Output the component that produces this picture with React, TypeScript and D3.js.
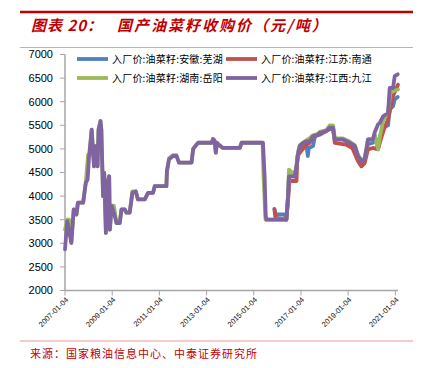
import React from "react";
import * as d3 from "d3";

const seriesNames = [
  "入厂价:油菜籽:安徽:芜湖",
  "入厂价:油菜籽:江苏:南通",
  "入厂价:油菜籽:湖南:岳阳",
  "入厂价:油菜籽:江西:九江",
];
const seriesColors = ["#4F81BD", "#C0504D", "#9BBB59", "#8064A2"];

const yTicks = [2000, 2500, 3000, 3500, 4000, 4500, 5000, 5500, 6000, 6500, 7000];
const xTickLabels = [
  "2007-01-04", "2009-01-04", "2011-01-04", "2013-01-04",
  "2015-01-04", "2017-01-04", "2019-01-04", "2021-01-04",
];

// 安徽芜湖
const anhuiDates = [
  "2015-11-20", "2015-12-10", "2016-04-30", "2016-05-23", "2016-06-18", "2016-07-02",
  "2016-09-28", "2016-10-27", "2016-11-22", "2016-12-17", "2017-02-06", "2017-03-29",
  "2017-04-20", "2017-05-05", "2017-07-09", "2017-08-10", "2017-10-20", "2018-02-02",
  "2018-03-25", "2018-05-16", "2018-06-11", "2018-10-17", "2019-01-30", "2019-04-17",
  "2019-06-07", "2019-07-28", "2019-09-17", "2019-11-07", "2020-01-23", "2020-02-17",
  "2020-04-12", "2020-05-08", "2020-06-28", "2020-09-13", "2020-10-08", "2020-11-29",
  "2020-12-25", "2021-02-10",
];
const anhuiValues = [
  3730, 3610, 3610, 3500, 4000, 4420,
  4420, 4630, 4850, 5000, 5060, 5090,
  4850, 5020, 5060, 5270, 5300, 5380,
  5420, 5420, 5200, 5200, 5130, 5060,
  4850, 4740, 4780, 5100, 5130, 5300,
  5000, 5250, 5450, 5500, 5840, 5900,
  6050, 6100,
];

// 江苏南通
const jiangsuDates = [
  "2015-11-20", "2015-12-05", "2016-05-23", "2016-06-18", "2016-07-10", "2016-10-27",
  "2016-11-10", "2016-12-17", "2017-03-29", "2017-05-19", "2017-07-09", "2017-10-20",
  "2018-02-02", "2018-03-25", "2018-05-16", "2018-06-11", "2018-12-01", "2019-03-10",
  "2019-06-07", "2019-07-28", "2019-09-17", "2019-11-07", "2020-01-23", "2020-04-12",
  "2020-06-01", "2020-07-28", "2020-09-13", "2020-11-29", "2021-02-14",
];
const jiangsuValues = [
  3720, 3540, 3500, 3900, 4320, 4320,
  4850, 4920, 5090, 5130, 5250, 5320,
  5380, 5430, 5430, 5130, 5090, 5020,
  4740, 4630, 4700, 4990, 5020, 4990,
  5240, 5480, 5620, 6120, 6360,
];

// 湖南岳阳
const hunanDates = [
  "2007-01-04", "2007-02-08", "2007-03-10", "2007-04-12", "2007-05-19", "2007-07-01",
  "2007-07-23", "2007-10-12", "2007-11-21", "2007-12-28", "2008-01-20", "2008-02-21",
  "2008-03-28", "2008-04-23", "2008-05-22", "2008-06-06", "2008-07-06", "2008-07-20",
  "2008-08-15", "2008-09-02", "2008-09-28", "2008-10-23", "2008-11-18", "2008-11-29",
  "2008-12-25", "2009-01-30", "2009-03-11", "2009-05-01", "2009-05-27", "2009-07-17",
  "2009-08-11", "2009-10-01", "2009-11-10", "2010-01-04", "2010-02-06", "2010-05-23",
  "2010-07-13", "2010-09-28", "2010-10-24", "2011-04-20", "2011-05-01", "2011-06-03",
  "2011-08-04", "2011-09-25", "2011-11-04", "2012-05-16", "2012-06-10", "2012-07-31",
  "2012-08-26", "2013-03-24", "2013-04-14", "2013-05-06", "2013-05-27", "2013-06-14",
  "2013-07-02", "2013-09-13", "2014-06-03", "2014-06-29", "2015-05-20", "2015-06-05",
  "2015-07-05", "2016-05-23", "2016-06-18", "2016-07-02", "2016-09-28", "2016-10-27",
  "2016-11-22", "2016-12-17", "2017-02-06", "2017-03-29", "2017-05-19", "2017-07-09",
  "2017-09-24", "2017-10-20", "2018-02-02", "2018-03-25", "2018-05-16", "2018-06-11",
  "2018-10-17", "2019-01-30", "2019-04-17", "2019-06-07", "2019-07-28", "2019-09-17",
  "2019-11-07", "2020-01-23", "2020-02-17", "2020-04-12", "2020-05-08", "2020-06-28",
  "2020-09-13", "2020-10-20", "2020-11-29", "2021-02-14",
];
const hunanValues = [
  3290, 3500, 3500, 3010, 3720, 3610,
  3860, 3860, 4280, 4880, 4880, 5410,
  4630, 5060, 4630, 5410, 5590, 5400,
  4000, 4490, 3220, 4280, 4420, 3290,
  3800, 3800, 3430, 3430, 3720, 3720,
  3650, 3650, 4100, 4100, 3930, 3930,
  4070, 4070, 4210, 4210, 4530, 4800,
  4870, 4870, 4710, 4710, 5000, 5090,
  5130, 5130, 5210, 5180, 4920, 5130,
  5100, 5020, 5020, 5130, 5130, 4400,
  3500, 3500, 4000, 4560, 4450, 4650,
  4950, 5080, 5130, 5180, 5230, 5290,
  5320, 5360, 5400, 5500, 5500, 5220,
  5220, 5150, 5080, 4870, 4760, 4800,
  5200, 5200, 5300, 4990, 5240, 5600,
  5780, 6190, 6220, 6260,
];

// 江西九江
const jiangxiDates = [
  "2007-01-04", "2007-02-08", "2007-04-12", "2007-05-19", "2007-07-01", "2007-07-23",
  "2007-10-12", "2007-11-21", "2007-12-20", "2008-01-12", "2008-02-21", "2008-03-28",
  "2008-04-23", "2008-05-22", "2008-06-06", "2008-07-06", "2008-07-20", "2008-08-15",
  "2008-09-02", "2008-09-28", "2008-10-23", "2008-11-18", "2008-11-29", "2008-12-25",
  "2009-01-30", "2009-03-11", "2009-05-01", "2009-05-27", "2009-07-17", "2009-08-11",
  "2009-10-01", "2009-11-14", "2010-01-04", "2010-02-06", "2010-05-23", "2010-07-13",
  "2010-09-28", "2010-10-24", "2011-04-24", "2011-05-01", "2011-06-03", "2011-08-04",
  "2011-09-25", "2011-11-04", "2012-05-16", "2012-06-10", "2012-07-31", "2012-08-26",
  "2013-03-24", "2013-04-14", "2013-05-06", "2013-05-27", "2013-06-14", "2013-07-02",
  "2013-09-13", "2014-06-03", "2014-06-29", "2015-05-27", "2015-06-21", "2015-07-09",
  "2015-07-20", "2016-05-23", "2016-06-18", "2016-07-02", "2016-09-28", "2016-10-27",
  "2016-11-22", "2016-12-17", "2017-02-06", "2017-03-29", "2017-05-19", "2017-07-09",
  "2017-09-24", "2017-10-20", "2018-02-02", "2018-03-25", "2018-05-16", "2018-06-11",
  "2018-10-17", "2019-01-30", "2019-04-17", "2019-06-07", "2019-07-28", "2019-09-17",
  "2019-11-07", "2020-01-23", "2020-02-17", "2020-04-12", "2020-05-08", "2020-06-28",
  "2020-09-13", "2020-10-08", "2020-11-29", "2020-12-25", "2021-02-10",
];
const jiangxiValues = [
  2870, 3470, 3010, 3720, 3610, 3860,
  3860, 4280, 4350, 4850, 5410, 4630,
  5060, 4630, 5410, 5590, 5400, 4000,
  4490, 3220, 4280, 4420, 3290, 3790,
  3650, 3430, 3430, 3720, 3720, 3650,
  3650, 4070, 4100, 3930, 3930, 4070,
  4070, 4210, 4210, 4530, 4780, 4850,
  4850, 4710, 4710, 5000, 5090, 5130,
  5130, 5210, 5180, 4920, 5130, 5100,
  5020, 5020, 5130, 5130, 4420, 3570,
  3500, 3500, 4000, 4420, 4420, 4630,
  4920, 5060, 5130, 5160, 5160, 5270,
  5300, 5340, 5380, 5450, 5450, 5200,
  5200, 5130, 5060, 4850, 4740, 4780,
  5200, 5200, 5340, 5520, 5550, 5690,
  5760, 6290, 6290, 6540, 6580,
];

const seriesDates = [anhuiDates, jiangsuDates, hunanDates, jiangxiDates];
const seriesValues = [anhuiValues, jiangsuValues, hunanValues, jiangxiValues];

const W = 431;
const H = 368;
const plot = { left: 65, right: 398, top: 54.5, bottom: 290.5 };

export default function App() {
  const parse = d3.timeParse("%Y-%m-%d");
  const x = d3
    .scaleTime()
    .domain([parse("2007-01-04")!, parse("2021-02-14")!])
    .range([plot.left, plot.right]);
  const y = d3.scaleLinear().domain([2000, 7000]).range([plot.bottom, plot.top]);

  const line = d3
    .line<[Date, number]>()
    .x((d) => x(d[0]))
    .y((d) => y(d[1]))
    .curve(d3.curveLinear);

  const axisColor = "#A6A6A6";
  const cjk = "'Noto Sans CJK SC', sans-serif";

  return (
    <svg
      width={W}
      height={H}
      style={{ position: "absolute", left: 0, top: 0, background: "#fff" }}
    >
      {/* header */}
      <line x1={20} x2={413} y1={12} y2={12} stroke="#C00000" strokeWidth={2.5} />
      <text
        x={31}
        y={31}
        fill="#C00000"
        fontFamily={cjk}
        fontSize={15}
        fontStyle="italic"
        fontWeight="bold"
        letterSpacing={1}
      >
        图表 20：
      </text>
      <text
        x={117}
        y={31}
        fill="#C00000"
        fontFamily={cjk}
        fontSize={15}
        fontStyle="italic"
        fontWeight="bold"
        letterSpacing={2}
      >
        国产油菜籽收购价（元/吨）
      </text>
      <line x1={20} x2={413} y1={47.5} y2={47.5} stroke="#E8A0A0" strokeWidth={1} />

      {/* y axis */}
      <line x1={plot.left} x2={plot.left} y1={plot.top} y2={plot.bottom} stroke={axisColor} strokeWidth={1.5} />
      {yTicks.map((t) => (
        <g key={t}>
          <line x1={plot.left - 5} x2={plot.left} y1={y(t)} y2={y(t)} stroke={axisColor} strokeWidth={1} />
          <text
            x={53}
            y={y(t)}
            dy="0.35em"
            textAnchor="end"
            fontFamily="'Liberation Sans', Arial, sans-serif"
            fontSize={11}
            fill="#000"
          >
            {t}
          </text>
        </g>
      ))}

      {/* x axis */}
      <line x1={plot.left} x2={plot.right} y1={plot.bottom} y2={plot.bottom} stroke={axisColor} strokeWidth={1.5} />
      {xTickLabels.map((l) => {
        const xp = x(parse(l)!);
        return (
          <g key={l}>
            <line x1={xp} x2={xp} y1={plot.bottom} y2={plot.bottom + 5} stroke={axisColor} strokeWidth={1} />
            <text
              transform={`translate(${xp + 2},${plot.bottom + 8}) rotate(-45)`}
              textAnchor="end"
              dy="0.35em"
              fontFamily="'Liberation Sans', Arial, sans-serif"
              fontSize={7.5}
              fill="#111"
            >
              {l}
            </text>
          </g>
        );
      })}

      {/* series */}
      {seriesDates.map((dates, i) => {
        const pts: [Date, number][] = dates.map((d, j) => [parse(d)!, seriesValues[i][j]]);
        return (
          <path
            key={i}
            d={line(pts) || ""}
            fill="none"
            stroke={seriesColors[i]}
            strokeWidth={3.8}
            strokeLinejoin="round"
            strokeLinecap="round"
          />
        );
      })}

      {/* legend */}
      {seriesNames.map((name, i) => {
        const col = i % 2;
        const row = Math.floor(i / 2);
        const lx = col === 0 ? 77 : 226;
        const ly = row === 0 ? 59 : 78;
        return (
          <g key={name}>
            <line x1={lx} x2={lx + 31} y1={ly} y2={ly} stroke={seriesColors[i]} strokeWidth={3.8} />
            <text
              x={lx + 35}
              y={ly}
              dy="0.35em"
              fontFamily={cjk}
              fontSize={10}
              letterSpacing={0.2}
              fill="#000"
            >
              {name}
            </text>
          </g>
        );
      })}

      {/* footer */}
      <line x1={20} x2={413} y1={341} y2={341} stroke="#F2B8B8" strokeWidth={1.5} />
      <text x={30} y={358} fill="#C00000" fontFamily={cjk} fontSize={11} letterSpacing={1}>
        来源：国家粮油信息中心、中泰证券研究所
      </text>
    </svg>
  );
}
